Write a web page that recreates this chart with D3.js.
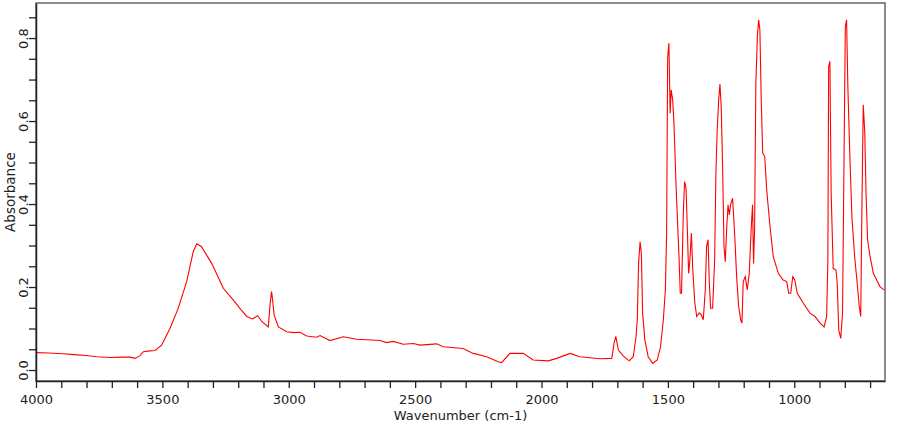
<!DOCTYPE html>
<html>
<head>
<meta charset="utf-8">
<script src="https://cdn.jsdelivr.net/npm/d3@7"></script>
<style>
  body { margin: 0; background: #fff; }
  svg text { font-family: "DejaVu Sans", sans-serif; fill: #222; }
</style>
</head>
<body>
<script>
// spectrum: wavenumber (cm-1) and absorbance
let wavenumber = [4000,3950,3892,3850,3800,3760,3707,3660,3628,3608,3590,3575,3550,3529,3503,3470,3437,3404,3378,3364,
  3345,3320,3305,3280,3259,3220,3190,3166,3143,3123,3107,3081,3074,3068,3064,3058,3041,3008,2980,2956,
  2929,2890,2876,2837,2784,2731,2639,2613,2587,2547,2507,2481,2415,2389,2310,2270,2217,2171,2158,2125,
  2072,2033,1973,1940,1887,1848,1769,1722,1713,1706,1696,1677,1653,1637,1626,1621,1616,1610,1605,1600,
  1591,1578,1560,1542,1529,1518,1510,1505,1501,1496,1491,1487,1481,1476,1468,1461,1456,1451,1446,1439,
  1434,1428,1423,1418,1413,1407,1402,1394,1386,1376,1368,1360,1352,1347,1341,1336,1331,1323,1315,1310,
  1305,1299,1294,1289,1283,1278,1273,1267,1262,1257,1252,1244,1236,1228,1220,1212,1207,1202,1194,1186,
  1178,1170,1165,1161,1157,1152,1146,1141,1136,1131,1125,1117,1109,1096,1083,1063,1044,1030,1022,1014,
  1006,998,988,964,938,918,898,882,872,867,864,859,854,846,835,830,824,816,809,803,
  798,793,788,780,772,761,751,743,737,732,727,721,716,710,700,687,674,661,645]
let absorbance = [0.042,0.041,0.039,0.037,0.035,0.032,0.030,0.031,0.031,0.028,0.034,0.044,0.046,0.047,0.060,0.100,0.149,0.213,0.285,0.304,
  0.297,0.272,0.257,0.225,0.197,0.169,0.146,0.129,0.123,0.131,0.117,0.104,0.157,0.189,0.170,0.133,0.104,0.092,0.090,0.091,
  0.082,0.079,0.083,0.071,0.080,0.074,0.071,0.066,0.069,0.062,0.064,0.060,0.063,0.056,0.052,0.040,0.032,0.020,0.018,0.040,
  0.040,0.024,0.022,0.028,0.040,0.032,0.027,0.028,0.064,0.081,0.048,0.034,0.022,0.032,0.080,0.121,0.257,0.309,0.281,0.137,
  0.072,0.032,0.016,0.024,0.056,0.121,0.193,0.330,0.752,0.788,0.619,0.675,0.651,0.595,0.450,0.346,0.273,0.185,0.185,0.378,
  0.454,0.438,0.338,0.233,0.265,0.330,0.249,0.165,0.129,0.138,0.133,0.121,0.193,0.297,0.314,0.209,0.149,0.149,0.265,0.474,
  0.579,0.651,0.689,0.635,0.474,0.297,0.261,0.346,0.398,0.374,0.398,0.414,0.330,0.225,0.153,0.121,0.113,0.213,0.225,0.193,
  0.233,0.346,0.398,0.257,0.338,0.692,0.804,0.844,0.820,0.659,0.523,0.515,0.434,0.346,0.273,0.233,0.217,0.213,0.185,0.185,
  0.225,0.217,0.185,0.161,0.137,0.129,0.113,0.104,0.129,0.265,0.732,0.744,0.426,0.245,0.241,0.209,0.096,0.076,0.137,0.515,
  0.828,0.844,0.683,0.515,0.370,0.273,0.209,0.153,0.129,0.410,0.639,0.571,0.426,0.314,0.273,0.233,0.217,0.201,0.193]

let xTicks = d3.range(4000, 650, -100)
let yTicks = d3.range(0, 0.851, 0.05)

let padL = 36, padR = 885, padT = 3, padB = 381

var svg = d3.select('body').append('svg').attr('width', 900).attr('height', 425)

var x = d3.scaleLinear().domain([4000, 641]).range([padL, padR])
var y = d3.scaleLinear().domain([-0.0265, 0.8845]).range([padB, padT])

// frame
svg.append('rect')
  .attr('x', padL).attr('y', padT)
  .attr('width', padR - padL).attr('height', padB - padT)
  .attr('fill', 'none').attr('stroke', '#666').attr('stroke-width', 1.5)

var pts = wavenumber.map(function(d, i) { return [d, absorbance[i]] })
var line = d3.line().x(function(d) { return x(d[0]) }).y(function(d) { return y(d[1]) })

svg.append('path').attr('d', line(pts))
  .attr('fill', 'none').attr('stroke', '#ff0000').attr('stroke-width', 1.1)

var xAxis = d3.axisBottom(x).tickValues(xTicks).tickSize(7).tickSizeOuter(0)
  .tickFormat(function(d) { return d % 500 == 0 ? d : '' })
var gx = svg.append('g').attr('transform', 'translate(0,' + padB + ')').call(xAxis)
gx.select('.domain').attr('stroke', '#222').attr('stroke-width', 1.5)
gx.selectAll('.tick line').attr('stroke', '#222').attr('stroke-width', 1.3)
gx.selectAll('.tick text').attr('y', 23).attr('dy', 0).style('font-size', '13px')

var yAxis = d3.axisLeft(y).tickValues(yTicks).tickSize(7).tickSizeOuter(0)
  .tickFormat(function(d, i) { return i % 4 == 0 ? d3.format('.1f')(d) : '' })
var gy = svg.append('g').attr('transform', 'translate(' + padL + ',0)').call(yAxis)
gy.select('.domain').attr('stroke', '#222').attr('stroke-width', 1.5)
gy.selectAll('.tick line').attr('stroke', '#222').attr('stroke-width', 1.3)
gy.selectAll('.tick text')
  .attr('x', 0).attr('dy', 0)
  .attr('text-anchor', 'middle')
  .attr('transform', 'translate(-8,0) rotate(-90)')
  .style('font-size', '13px')

svg.append('text').attr('x', (padL + padR) / 2).attr('y', 420)
  .attr('text-anchor', 'middle').style('font-size', '13px')
  .text('Wavenumber (cm-1)')

svg.append('text').attr('transform', 'translate(15,' + (padT + padB) / 2 + ') rotate(-90)')
  .attr('text-anchor', 'middle').style('font-size', '13.5px')
  .text('Absorbance')
</script>
</body>
</html>
